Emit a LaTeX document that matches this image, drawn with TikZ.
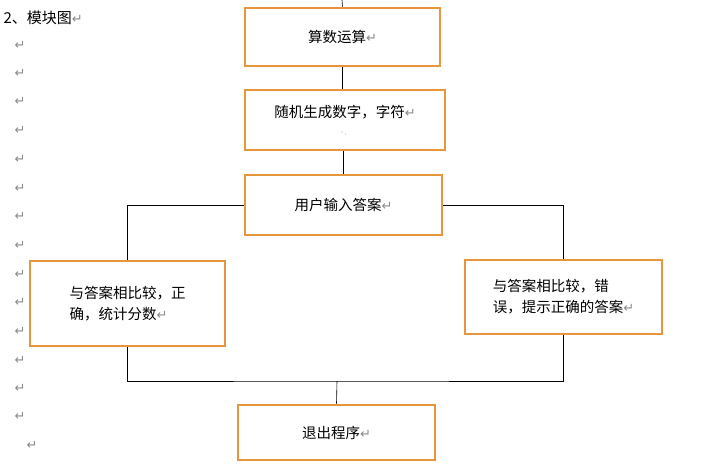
\documentclass[tikz,border=0pt]{standalone}
\usepackage{fontspec}
\newfontfamily\cjk{Noto Sans CJK SC}
\newfontfamily\dv{DejaVu Sans}
\definecolor{ob}{HTML}{E8963C}
\definecolor{pm}{HTML}{8A8A8A}
\newcommand{\pmk}{{\dv\color{pm}\fontsize{13}{13}\selectfont ↵}}
\begin{document}
\begin{tikzpicture}[x=1pt,y=-1pt,
  bx/.style={draw=ob,line width=2.6pt,fill=white,inner sep=0pt,font=\cjk\fontsize{14.5}{21}\selectfont,align=left},
  ln/.style={draw=black,line width=0.6pt}]
\useasboundingbox (0,0) rectangle (704,464);
\node[anchor=west,font=\cjk\fontsize{15}{17}\selectfont] at (0,18) {2、模块图\pmk};
\foreach \y in {45,73,101,130,159,188,216,245,274,302,331,360,388,416} \node at (20,\y) {\pmk};
\node at (32,445) {\pmk};
\node[bx,minimum width=195pt,minimum height=58pt] (a) at (342.5,37) {算数运算\pmk};
\node[bx,minimum width=200pt,minimum height=60pt] (b) at (345,120) {随机生成数字，字符\pmk\\[-4pt]\hspace*{4.5em}{\tiny\color{pm}·,}};
\node[bx,minimum width=197pt,minimum height=60pt] (c) at (343.5,205) {用户输入答案\pmk};
\node[bx,minimum width=195pt,minimum height=85pt] (d) at (127.5,303.5) {与答案相比较，正\\确，统计分数\pmk};
\node[bx,minimum width=197pt,minimum height=74pt] (e) at (563.5,297) {与答案相比较，错\\误，提示正确的答案\pmk};
\node[bx,minimum width=197pt,minimum height=55pt] (f) at (336.5,432.5) {退出程序\pmk};
\coordinate (top) at (342,0);
\coordinate (j) at (337,381);
\draw[ln] (top) -- (a.north);
\draw[ln] (a.south) -- (b.north -| a.south);
\draw[ln] (b.south -| c.north) -- (c.north);
\draw[ln] (c.west) -| (d.north);
\draw[ln] (c.east) -| (e.north);
\draw[ln] (d.south) |- (j) -| (e.south);
\draw[ln] (j) -- (f.north);
\end{tikzpicture}
\end{document}
